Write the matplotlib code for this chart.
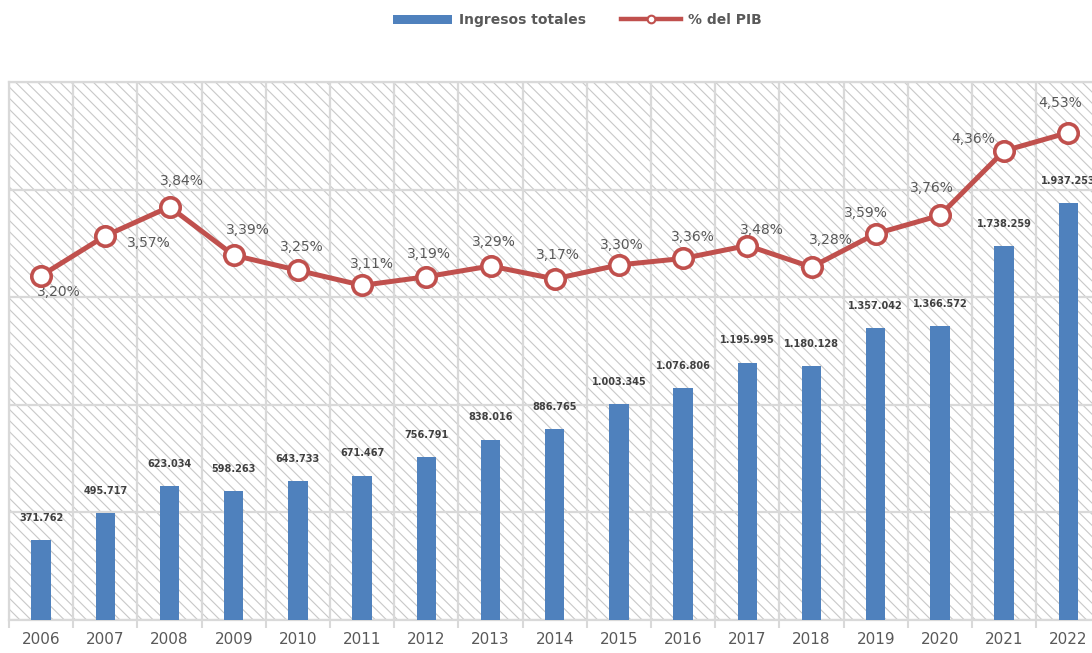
import matplotlib
matplotlib.use("Agg")
import matplotlib.pyplot as plt
from matplotlib.patches import Rectangle, Patch
from matplotlib.lines import Line2D
import numpy as np

years = [str(y) for y in range(2006, 2023)]
ingresos = [371762, 495717, 623034, 598263, 643733, 671467, 756791, 838016, 886765,
            1003345, 1076806, 1195995, 1180128, 1357042, 1366572, 1738259, 1937253]
pct_pib = [3.20, 3.57, 3.84, 3.39, 3.25, 3.11, 3.19, 3.29, 3.17,
           3.30, 3.36, 3.48, 3.28, 3.59, 3.76, 4.36, 4.53]

# label offsets for the % labels (pixels, x right / y up)
pct_off = [(18, -16), (44, -7), (12, 26), (14, 25), (4, 23), (10, 21), (3, 23), (3, 24),
           (3, 24), (3, 20), (10, 21), (15, 16), (19, 27), (-10, 21), (-8, 27), (-31, 12), (-8, 30)]

blue = "#4F81BD"
red = "#C0504D"
grid_c = "#D9D9D9"
txt_c = "#595959"

plt.rcParams["hatch.linewidth"] = 0.8

fig = plt.figure(figsize=(10.92, 6.53), dpi=100)
ax = fig.add_axes([9 / 1092, 33 / 653, 1091.4 / 1092, 538 / 653])
x = np.arange(len(years))

# hatched background
ax.set_facecolor("white")
ax.add_patch(Rectangle((0, 0), 1, 1, transform=ax.transAxes, facecolor="white",
                       edgecolor="#C8C8C8", hatch="\\\\\\", linewidth=0, zorder=0))

ax.bar(x, ingresos, width=0.3, color=blue, zorder=3)
for xi, v in zip(x, ingresos):
    lab = f"{v:,}".replace(",", ".")
    ax.annotate(lab, (xi, v), xytext=(0, 16), textcoords="offset points",
                ha="center", va="center", fontsize=7, fontweight="bold", color="#404040", zorder=5)

ax.set_xlim(-0.5, len(years) - 0.5)
ax.set_ylim(0, 2500000)
ax.set_yticks(np.arange(0, 2500001, 500000))
ax.set_xticks(x)
ax.set_xticklabels(years, fontsize=11, color=txt_c)
ax.set_xticks(np.arange(-0.5, len(years), 1), minor=True)
ax.tick_params(axis="x", which="major", length=0, pad=9)
ax.tick_params(axis="x", which="minor", length=6, width=1.5, color=grid_c)
ax.grid(axis="y", which="major", color=grid_c, linewidth=1.6, zorder=1)
ax.grid(axis="x", which="minor", color=grid_c, linewidth=1.6, zorder=1)
ax.set_axisbelow(True)
for s in ["top", "left", "bottom", "right"]:
    ax.spines[s].set_color(grid_c)
    ax.spines[s].set_linewidth(1.6)

ax2 = ax.twinx()
ax2.set_ylim(0, 5)
ax2.patch.set_visible(False)
ax2.plot(x, pct_pib, color=red, linewidth=3.6, marker="o", markersize=14,
         markerfacecolor="white", markeredgecolor=red, markeredgewidth=2.6, zorder=4)
for xi, v, (dx, dy) in zip(x, pct_pib, pct_off):
    ax2.annotate(f"{v:.2f}%".replace(".", ","), (xi, v), xytext=(dx * 0.72, dy * 0.72),
                 textcoords="offset points", ha="center", va="center", fontsize=10, color=txt_c)
ax2.tick_params(axis="y", right=False, labelright=False)
ax.tick_params(axis="y", which="both", left=False, right=False, labelleft=False)
for s in ax2.spines.values():
    s.set_visible(False)

handles = [Patch(facecolor=blue, edgecolor="none"),
           Line2D([], [], color=red, linewidth=3.2, marker="o", markersize=5.5,
                  markerfacecolor="white", markeredgecolor=red, markeredgewidth=1.5)]
leg = fig.legend(handles, ["Ingresos totales", "% del PIB"], loc="center",
                 bbox_to_anchor=(577 / 1092, 1 - 20 / 653), ncol=2, frameon=False,
                 handlelength=4.3, handleheight=0.6, handletextpad=0.5, columnspacing=2.5,
                 prop={"size": 10, "weight": "bold"})
for t in leg.get_texts():
    t.set_color(txt_c)

fig.savefig("out.png", dpi=100)
